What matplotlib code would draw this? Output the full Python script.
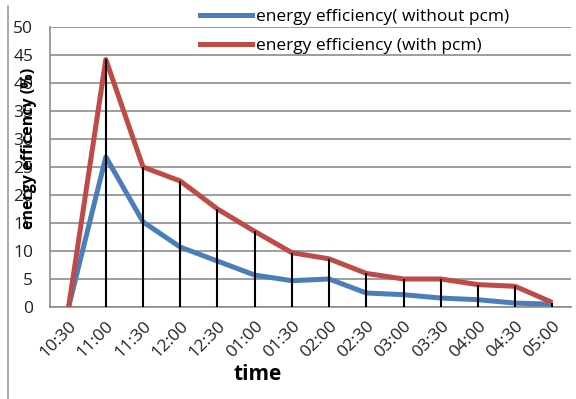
import numpy as np
import matplotlib
matplotlib.use("Agg")
import matplotlib.pyplot as plt
from matplotlib.lines import Line2D

times = ["10:30", "11:00", "11:30", "12:00", "12:30", "01:00", "01:30",
         "02:00", "02:30", "03:00", "03:30", "04:00", "04:30", "05:00"]
without_pcm = [0, 26.8, 15.2, 10.7, 8.2, 5.7, 4.7, 5.0, 2.5, 2.2, 1.6, 1.3, 0.7, 0.5]
with_pcm = [0, 44.2, 25.0, 22.5, 17.5, 13.5, 9.7, 8.6, 6.0, 5.0, 5.0, 4.0, 3.7, 0.8]

blue = "#4a7ebb"
red = "#be4b48"
grid = "#8c8c8c"

plt.rcParams['font.family'] = ['Open Sans', 'DejaVu Sans']

fig = plt.figure(figsize=(5.76, 3.99), dpi=100)
ax = fig.add_axes([50 / 576, 1 - 307 / 399, 521 / 576, 280 / 399])

x = np.arange(len(times))
ax.plot(x, without_pcm, color=blue, lw=3.6, solid_capstyle='butt', zorder=3,
        label="energy efficiency( without pcm)")
ax.plot(x, with_pcm, color=red, lw=3.6, solid_capstyle='butt', zorder=3,
        label="energy efficiency (with pcm)")

# drop lines from the top series down to the axis
tops = np.maximum(without_pcm, with_pcm)
ax.vlines(x[1:], 0, tops[1:], color="black", lw=1.5, zorder=4)

ax.set_xlim(-0.5, len(times) - 0.5)
ax.set_ylim(0, 50)
ax.set_yticks(np.arange(0, 51, 5))
ax.set_xticks(x)
ax.set_xticklabels(times, rotation=45, ha='right', rotation_mode='anchor')
ax.yaxis.grid(True, color=grid, lw=1.2)
ax.set_axisbelow(True)
for s in ['top', 'right']:
    ax.spines[s].set_visible(False)
for s in ['left', 'bottom']:
    ax.spines[s].set_color(grid)
    ax.spines[s].set_linewidth(1.2)
ax.tick_params(axis='both', length=0, labelsize=12.5, colors="#222222")
ax.tick_params(axis='y', pad=12)
ax.tick_params(axis='x', pad=8)

ax.set_xlabel("time", fontsize=15, fontweight='bold')
ax.xaxis.set_label_coords(0.398, -0.205)
ax.set_ylabel("energy efficency (%)", fontsize=11.5, fontweight='bold')
ax.yaxis.set_label_coords(-0.025, 0.565)

handles = [Line2D([], [], color=blue, lw=3.6), Line2D([], [], color=red, lw=3.6)]
fig.legend(handles, ["energy efficiency( without pcm)", "energy efficiency (with pcm)"],
           loc='upper left', bbox_to_anchor=(200 / 576, 1 - 9 / 399), frameon=False,
           fontsize=12.5, handlelength=3.0, handletextpad=0.2, labelspacing=0.72,
           borderaxespad=0, borderpad=0)

# left border line of the original frame
fig.add_artist(Line2D([8 / 576, 8 / 576], [0, 1 - 6 / 399], color="#999999", lw=1.2))

fig.savefig("out.png", dpi=100)
